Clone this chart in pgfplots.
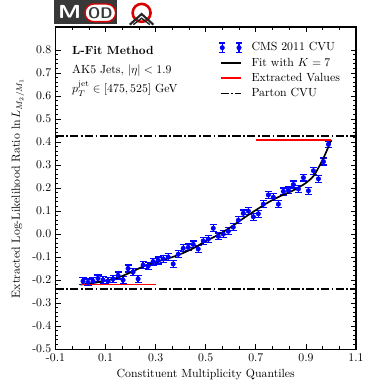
\documentclass[border=0pt]{standalone}
\usepackage{pgfplots}
\pgfplotsset{compat=1.18}
\usepackage{pgfplotstable}
\usetikzlibrary{calc}

% CMS 2011 CVU points: x, y, error
\pgfplotstableread{
x y e
0.01 -0.205 0.015
0.03 -0.210 0.015
0.05 -0.205 0.015
0.07 -0.193 0.015
0.09 -0.200 0.015
0.11 -0.205 0.015
0.13 -0.195 0.015
0.15 -0.180 0.015
0.17 -0.200 0.015
0.19 -0.150 0.015
0.21 -0.165 0.015
0.23 -0.195 0.015
0.25 -0.135 0.015
0.27 -0.140 0.015
0.29 -0.120 0.015
0.31 -0.115 0.015
0.33 -0.108 0.015
0.35 -0.100 0.015
0.37 -0.130 0.015
0.39 -0.088 0.015
0.41 -0.062 0.015
0.43 -0.058 0.015
0.45 -0.045 0.015
0.47 -0.065 0.015
0.49 -0.030 0.015
0.51 -0.022 0.015
0.53 0.025 0.015
0.55 -0.010 0.015
0.57 0.000 0.015
0.59 0.012 0.015
0.61 0.030 0.015
0.63 0.060 0.015
0.65 0.090 0.015
0.67 0.100 0.015
0.69 0.075 0.015
0.71 0.088 0.015
0.73 0.130 0.015
0.75 0.170 0.015
0.77 0.160 0.015
0.79 0.130 0.015
0.81 0.185 0.015
0.83 0.190 0.015
0.85 0.215 0.015
0.87 0.196 0.015
0.89 0.245 0.015
0.91 0.188 0.015
0.93 0.275 0.015
0.95 0.240 0.015
0.97 0.315 0.015
0.99 0.390 0.015
}\cvudata

\begin{document}
\begin{tikzpicture}
\begin{axis}[
    scale only axis,
    width=254.7pt,
    height=272.9pt,
    xmin=-0.1, xmax=1.1,
    ymin=-0.5, ymax=0.9,
    xtick={-0.1,0.1,0.3,0.5,0.7,0.9,1.1},
    xticklabels={-0.1,0.1,0.3,0.5,0.7,0.9,1.1},
    minor x tick num=2,
    ytick={-0.5,-0.4,-0.3,-0.2,-0.1,0,0.1,0.2,0.3,0.4,0.5,0.6,0.7,0.8},
    yticklabels={-0.5,-0.4,-0.3,-0.2,-0.1,0.0,0.1,0.2,0.3,0.4,0.5,0.6,0.7,0.8},
    minor y tick num=4,
    tick align=inside,
    major tick length=4.5pt,
    minor tick length=2.5pt,
    tick style={black, line width=0.6pt},
    axis line style={line width=0.9pt},
    xlabel={Constituent Multiplicity Quantiles},
    ylabel={Extracted Log-Likelihood Ratio $\ln L_{M_2/M_1}$},
    legend style={draw=none, fill=none, at={(0.965,0.965)}, anchor=north east,
        row sep=1.5pt, nodes={inner sep=1.5pt},
        /tikz/every odd column/.append style={column sep=6pt}},
    legend cell align=left,
]
\addplot[blue, only marks, mark=*, mark size=1.9pt,
    legend image code/.code={
      \foreach \xx in {0.05cm,0.55cm}{
        \draw[blue, line width=1pt] (\xx,-0.14cm) -- (\xx,0.14cm)
            (\xx-0.09cm,-0.14cm) -- (\xx+0.09cm,-0.14cm)
            (\xx-0.09cm,0.14cm) -- (\xx+0.09cm,0.14cm);
        \fill[blue] (\xx,0) circle (1.9pt);
      }},
    error bars/.cd, y dir=both, y explicit,
    error bar style={line width=1.1pt, blue},
    error mark options={rotate=90, blue, mark size=3pt, line width=1.1pt},
    ] table[x=x, y=y, y error=e] {\cvudata};
\addlegendentry{CMS 2011 CVU}
\addplot[black, line width=1.4pt, smooth, tension=0.5] coordinates {
    (0.00,-0.220) (0.05,-0.213) (0.10,-0.203) (0.15,-0.189) (0.20,-0.167)
    (0.25,-0.141) (0.30,-0.122) (0.35,-0.106) (0.40,-0.087) (0.45,-0.062)
    (0.50,-0.031) (0.55,-0.003) (0.60,0.030) (0.65,0.068) (0.70,0.104)
    (0.75,0.138) (0.80,0.166) (0.85,0.190) (0.90,0.222) (0.93,0.252)
    (0.95,0.288) (0.97,0.330) (0.99,0.380) (1.00,0.408)
};
\addlegendentry{Fit with $K=7$}
\addplot[red, line width=1.4pt] coordinates {(0.0,-0.220) (0.3,-0.220)};
\addlegendentry{Extracted Values}
\addplot[red, line width=1.4pt, forget plot] coordinates {(0.7,0.410) (1.0,0.410)};
\addplot[black, line width=1.4pt, dash pattern=on 7pt off 2pt on 1.5pt off 2pt] coordinates {(-0.1,0.425) (1.1,0.425)};
\addlegendentry{Parton CVU}
\addplot[black, line width=1.4pt, dash pattern=on 7pt off 2pt on 1.5pt off 2pt, forget plot] coordinates {(-0.1,-0.239) (1.1,-0.239)};
\node[anchor=north west, align=left, inner sep=0pt] at (axis description cs:0.055,0.94)
    {\textbf{L-Fit Method}\\[4pt] AK5 Jets, $|\eta|<1.9$\\[3pt] $p_T^{\mathrm{jet}}\in[475,525]$ GeV};
\end{axis}
\coordinate (NW) at (current axis.north west);
\coordinate (NE) at (current axis.north east);
\coordinate (SW) at (current axis.south west);
% MOD logo
\fill[black!78] ($(NW)+(-1pt,2.5pt)$) rectangle ($(NW)+(52pt,23pt)$);
\node[white, font=\sffamily\bfseries\fontsize{16}{16}\selectfont, xscale=1.25] at ($(NW)+(12pt,12.5pt)$) {M};
\draw[red!85!black, fill=white, line width=1.2pt, rounded corners=7.5pt] ($(NW)+(25pt,4.5pt)$) rectangle ($(NW)+(51pt,19.5pt)$);
\node[black!78, font=\sffamily\bfseries\fontsize{13}{13}\selectfont] at ($(NW)+(38pt,12pt)$) {OD};
\draw[red!85!black, line width=2.2pt] ($(NW)+(73pt,12pt)$) circle (7.6pt);
\draw[black!85, line width=1.8pt] ($(NW)+(63pt,2pt)$) -- ($(NW)+(73pt,11pt)$) -- ($(NW)+(83pt,2pt)$);
\draw[black!85, line width=1.2pt] ($(NW)+(66pt,2pt)$) -- ($(NW)+(73pt,7.5pt)$) -- ($(NW)+(80pt,2pt)$);
% page size
\pgfresetboundingbox
\path ($(SW)+(-47pt,-36.4pt)$) rectangle ($(NE)+(15.3pt,22.9pt)$);
\end{tikzpicture}
\end{document}
